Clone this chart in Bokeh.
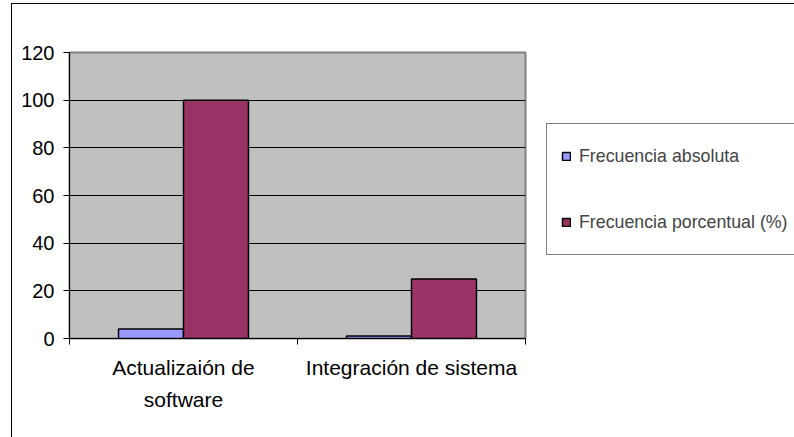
from bokeh.plotting import figure
from bokeh.models import Range1d, FixedTicker, Legend, LegendItem, ColumnDataSource, InlineStyleSheet
from bokeh.embed import file_html
from bokeh.resources import INLINE

categories = ["Actualizaión de\nsoftware", "Integración de sistema"]
series_names = ["Frecuencia absoluta", "Frecuencia porcentual (%)"]
frec_absoluta = [4, 1]
frec_porcentual = [100, 25]
y_ticks = [0, 20, 40, 60, 80, 100, 120]
colors = ["#9999FF", "#993366"]

n = len(categories)
centers = [i + 0.5 for i in range(n)]
bar_w = 0.285

FONT = "Liberation Sans"

sheet = InlineStyleSheet(css=":host { border-left: 1px solid #000; border-top: 1px solid #000; }")

p = figure(
    width=782, height=433,
    x_range=Range1d(0, n), y_range=Range1d(0, 120),
    output_backend="svg", toolbar_location=None,
    min_border_left=57, min_border_top=48, min_border_right=268, min_border_bottom=99,
    frame_width=456, frame_height=286,
    margin=(3, 0, 0, 11),
    stylesheets=[sheet],
)
p.background_fill_color = "#C0C0C0"
p.border_fill_color = "white"
p.outline_line_color = "#808080"
p.outline_line_width = 2

src_a = ColumnDataSource(dict(x=[c - bar_w / 2 for c in centers], top=frec_absoluta))
src_p = ColumnDataSource(dict(x=[c + bar_w / 2 for c in centers], top=frec_porcentual))
r1 = p.vbar(x="x", top="top", width=bar_w, bottom=0, source=src_a,
            fill_color=colors[0], line_color="black", line_width=1.5)
r2 = p.vbar(x="x", top="top", width=bar_w, bottom=0, source=src_p,
            fill_color=colors[1], line_color="black", line_width=1.5)

# y axis
p.yaxis.ticker = FixedTicker(ticks=y_ticks)
p.yaxis.major_tick_out = 6
p.yaxis.major_tick_in = 0
p.yaxis.minor_tick_out = 0
p.yaxis.minor_tick_in = 0
p.yaxis.axis_line_color = "black"
p.yaxis.major_tick_line_color = "black"
p.yaxis.major_label_text_font = FONT
p.yaxis.major_label_text_font_size = "20px"
p.yaxis.major_label_text_color = "black"
p.yaxis.major_label_standoff = 9

# x axis
p.xaxis.ticker = FixedTicker(ticks=centers, minor_ticks=list(range(n + 1)))
p.xaxis.major_label_overrides = {c: lab for c, lab in zip(centers, categories)}
p.xaxis.major_tick_out = 0
p.xaxis.major_tick_in = 0
p.xaxis.minor_tick_out = 6
p.xaxis.minor_tick_in = 0
p.xaxis.minor_tick_line_color = "black"
p.xaxis.axis_line_color = "black"
p.xaxis.major_label_text_font = FONT
p.xaxis.major_label_text_font_size = "21px"
p.xaxis.major_label_text_color = "black"
p.xaxis.major_label_text_line_height = 1.4
p.xaxis.major_label_standoff = 11

p.xgrid.grid_line_color = None
p.ygrid.ticker = FixedTicker(ticks=y_ticks)
p.ygrid.grid_line_color = "black"
p.ygrid.grid_line_width = 1

legend = Legend(
    items=[LegendItem(label=series_names[0], renderers=[r1]),
           LegendItem(label=series_names[1], renderers=[r2])],
    location=(21, 83),
    glyph_width=10, glyph_height=10,
    label_height=36, spacing=30, padding=14, margin=0,
    label_standoff=8,
    label_text_font=FONT, label_text_font_size="17.8px",
    border_line_color="black", border_line_width=1,
    background_fill_color="white", background_fill_alpha=1,
)
p.add_layout(legend, "right")

open("out.html", "w").write(file_html(p, INLINE))
